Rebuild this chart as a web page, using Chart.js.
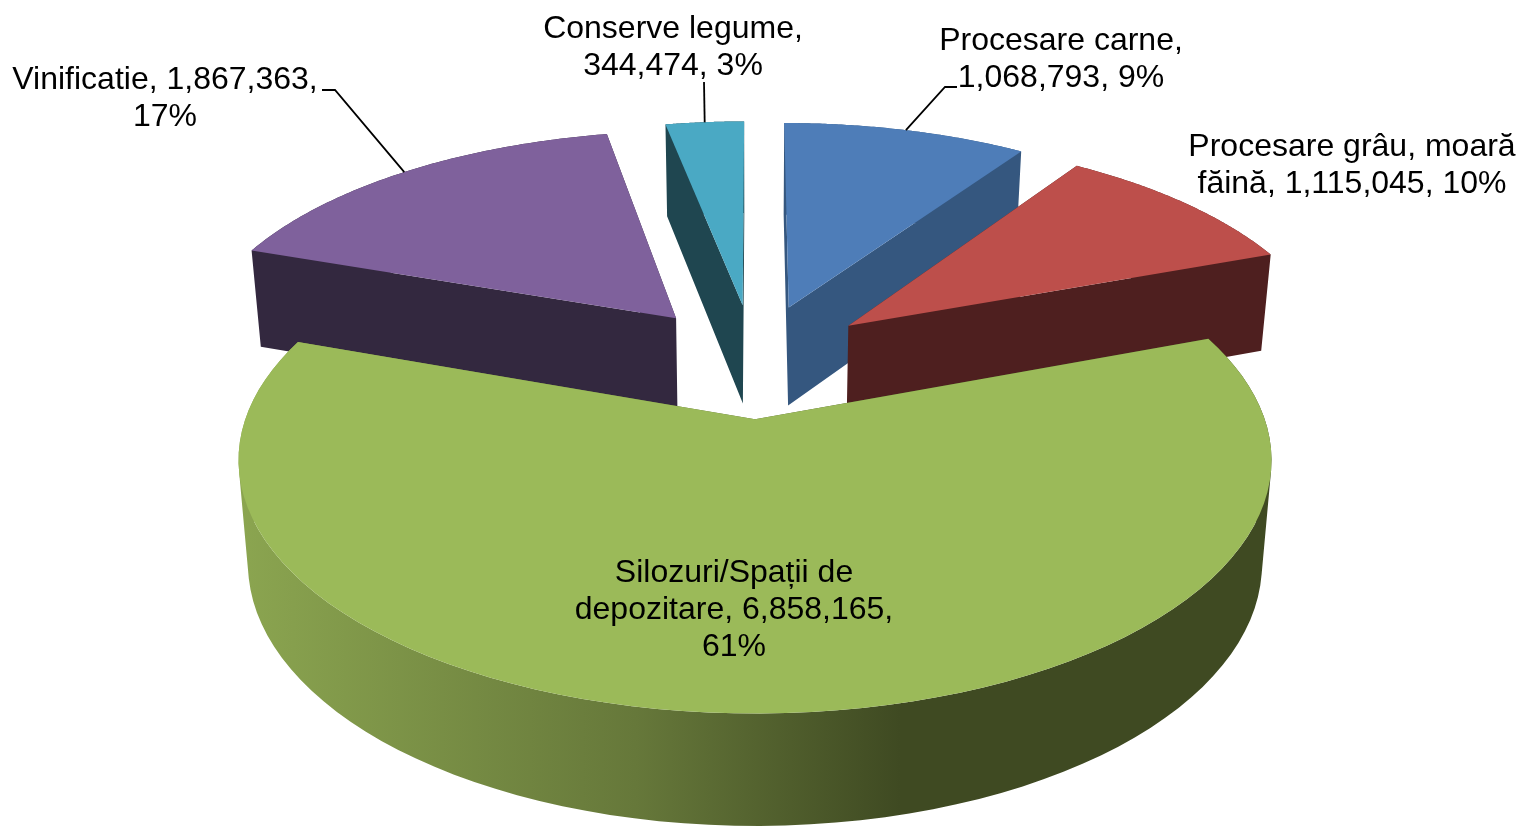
<!DOCTYPE html>
<html>
<head>
<meta charset="utf-8">
<style>
  html, body { margin: 0; padding: 0; background: #fff; }
  canvas { display: block; }
</style>
<script src="https://cdn.jsdelivr.net/npm/chart.js@4"></script>
</head>
<body>
<canvas id="pieChart" width="1520" height="827"></canvas>
<script>
const categories = ["Procesare carne", "Procesare grâu, moară făină", "Silozuri/Spații de depozitare", "Vinificatie", "Conserve legume"];
const values = [1068793, 1115045, 6858165, 1867363, 344474];
const percents = [9, 10, 61, 17, 3];

const topColors = ["#4e7db8", "#bd4f4b", "#9bba59", "#7f619c", "#4aa9c4"];
const wallColors = ["#35577f", "#4e1f1f", null, "#33283f", "#1f4650"];

// where each label sits; elbow is the bend of the leader line
const labelSpots = [
    { x: 1061, y: 41, width: 280, elbow: [[945, 87], [957, 87]] },
    { x: 1352, y: 147, width: 340 },
    { x: 734, y: 573, width: 330 },
    { x: 165, y: 80, width: 320, elbow: [[335, 90], [322, 90]] },
    { x: 673, y: 29, width: 270, elbow: [[704, 82]] },
];

// perspective of the pie plane, Excel style 3D
const view = { cx: 754, k: 0.155, explode: 0.25,
    top: { a: 490, s: 228, y: 360 },
    bottom: { a: 481, s: 236, y: 460 } };

const project = (px, py, plane) => {
    const w = 1 - view.k * py;
    return [view.cx + plane.a * px / w, plane.y + plane.s * py / w];
};

// points of a slice in plan coordinates, pie radius = 1
const rimPoints = (arc, steps) => {
    const mid = (arc.startAngle + arc.endAngle) / 2;
    const ox = view.explode * Math.cos(mid);
    const oy = view.explode * Math.sin(mid);
    const points = [];
    for (let i = 0; i <= steps; i++) {
        const a = arc.startAngle + (arc.endAngle - arc.startAngle) * i / steps;
        points.push([ox + Math.cos(a), oy + Math.sin(a)]);
    }
    return { center: [ox, oy], points };
};

const addPolygon = (ctx, pts) => {
    // same winding for every polygon so overlaps don't cancel in the fill
    let area = 0;
    pts.forEach((p, i) => {
        const q = pts[(i + 1) % pts.length];
        area += p[0] * q[1] - q[0] * p[1];
    });
    const ordered = area < 0 ? [...pts].reverse() : pts;
    ordered.forEach((p, i) => i ? ctx.lineTo(p[0], p[1]) : ctx.moveTo(p[0], p[1]));
    ctx.closePath();
};

const fillPolygons = (ctx, polygons, color) => {
    ctx.beginPath();
    polygons.forEach(pts => addPolygon(ctx, pts));
    ctx.fillStyle = color;
    ctx.fill();
};

const pieView = {
    id: "pieView",
    beforeDatasetsDraw(chart) {
        const ctx = chart.ctx;
        const arcs = chart.getDatasetMeta(0).data.map((el, index) => ({ el, index }));
        const midY = a => Math.sin((a.el.startAngle + a.el.endAngle) / 2);
        arcs.sort((a, b) => midY(a) - midY(b));

        const greenWall = ctx.createLinearGradient(240, 0, 900, 0);
        greenWall.addColorStop(0, "#8ba550");
        greenWall.addColorStop(0.6, "#66783a");
        greenWall.addColorStop(1, "#3f4a22");

        arcs.forEach(({ el, index }) => {
            const { center, points } = rimPoints(el, 90);
            const wall = wallColors[index] || greenWall;
            const t = p => project(p[0], p[1], view.top);
            const b = p => project(p[0], p[1], view.bottom);

            // cut faces and outer wall in one path, no seams
            const faces = [
                [t(center), t(points[0]), b(points[0]), b(center)],
                [t(center), t(points[90]), b(points[90]), b(center)],
            ];
            for (let i = 0; i < 90; i++) {
                faces.push([t(points[i]), t(points[i + 1]), b(points[i + 1]), b(points[i])]);
            }
            fillPolygons(ctx, faces, wall);
            // top face
            fillPolygons(ctx, [[t(center), ...points.map(t)]], el.options.backgroundColor);
        });
        return false;
    },
    afterDraw(chart) {
        const ctx = chart.ctx;
        const arcs = chart.getDatasetMeta(0).data;
        ctx.font = '32px "Liberation Sans"';
        ctx.textAlign = "center";
        ctx.textBaseline = "middle";
        categories.forEach((name, i) => {
            const spot = labelSpots[i];
            const text = `${name}, ${values[i].toLocaleString("en-US")}, ${percents[i]}%`;
            const lines = [];
            let line = "";
            text.split(" ").forEach(word => {
                const next = line ? line + " " + word : word;
                if (line && ctx.measureText(next).width > spot.width) {
                    lines.push(line);
                    line = word;
                } else {
                    line = next;
                }
            });
            lines.push(line);
            ctx.fillStyle = "#000";
            lines.forEach((l, n) => ctx.fillText(l, spot.x, spot.y + n * 37));

            if (spot.elbow) {
                const mid = (arcs[i].startAngle + arcs[i].endAngle) / 2;
                const rim = project((1 + view.explode) * Math.cos(mid), (1 + view.explode) * Math.sin(mid), view.top);
                ctx.beginPath();
                ctx.moveTo(rim[0], rim[1]);
                spot.elbow.forEach(p => ctx.lineTo(p[0], p[1]));
                ctx.strokeStyle = "#000";
                ctx.lineWidth = 1.8;
                ctx.stroke();
            }
        });
    },
};

new Chart(document.getElementById("pieChart"), {
    type: "pie",
    data: {
        labels: categories,
        datasets: [{ data: values, backgroundColor: topColors }],
    },
    options: {
        responsive: false,
        animation: false,
        events: [],
        plugins: {
            legend: { display: false },
            tooltip: { enabled: false },
        },
    },
    plugins: [pieView],
});
</script>
</body>
</html>
